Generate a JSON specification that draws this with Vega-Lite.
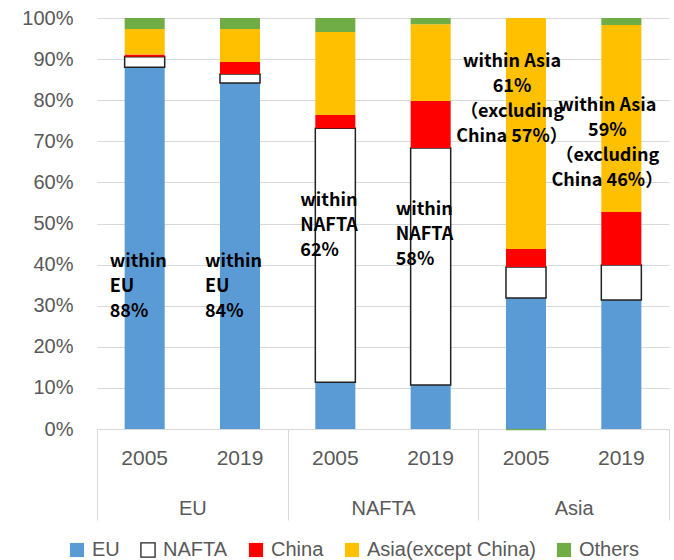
{
  "$schema": "https://vega.github.io/schema/vega-lite/v6.json",
  "width": 572,
  "height": 411,
  "autosize": "none",
  "padding": {"left": 97, "top": 18, "right": 5, "bottom": 131},
  "config": {
    "view": {"stroke": null},
    "font": "Liberation Sans",
    "axis": {"labelFont": "Liberation Sans", "labelColor": "#595959", "labelFontSize": 20, "title": null}
  },
  "layer": [
    {
      "data": {"values": [
        {"bar": "EU|2005", "cat": "EU", "o": 1, "v": 88.0},
        {"bar": "EU|2005", "cat": "NAFTA", "o": 2, "v": 2.6},
        {"bar": "EU|2005", "cat": "China", "o": 3, "v": 0.5},
        {"bar": "EU|2005", "cat": "Asia(except China)", "o": 4, "v": 6.2},
        {"bar": "EU|2005", "cat": "Others", "o": 5, "v": 2.7},
        {"bar": "EU|2019", "cat": "EU", "o": 1, "v": 84.2},
        {"bar": "EU|2019", "cat": "NAFTA", "o": 2, "v": 2.2},
        {"bar": "EU|2019", "cat": "China", "o": 3, "v": 2.9},
        {"bar": "EU|2019", "cat": "Asia(except China)", "o": 4, "v": 8.0},
        {"bar": "EU|2019", "cat": "Others", "o": 5, "v": 2.7},
        {"bar": "NAFTA|2005", "cat": "EU", "o": 1, "v": 11.4},
        {"bar": "NAFTA|2005", "cat": "NAFTA", "o": 2, "v": 61.8},
        {"bar": "NAFTA|2005", "cat": "China", "o": 3, "v": 3.2},
        {"bar": "NAFTA|2005", "cat": "Asia(except China)", "o": 4, "v": 20.2},
        {"bar": "NAFTA|2005", "cat": "Others", "o": 5, "v": 3.4},
        {"bar": "NAFTA|2019", "cat": "EU", "o": 1, "v": 10.7},
        {"bar": "NAFTA|2019", "cat": "NAFTA", "o": 2, "v": 57.7},
        {"bar": "NAFTA|2019", "cat": "China", "o": 3, "v": 11.4},
        {"bar": "NAFTA|2019", "cat": "Asia(except China)", "o": 4, "v": 18.7},
        {"bar": "NAFTA|2019", "cat": "Others", "o": 5, "v": 1.5},
        {"bar": "Asia|2005", "cat": "EU", "o": 1, "v": 31.9},
        {"bar": "Asia|2005", "cat": "NAFTA", "o": 2, "v": 7.5},
        {"bar": "Asia|2005", "cat": "China", "o": 3, "v": 4.4},
        {"bar": "Asia|2005", "cat": "Asia(except China)", "o": 4, "v": 56.2},
        {"bar": "Asia|2005", "cat": "Others", "o": 5, "v": -0.3},
        {"bar": "Asia|2019", "cat": "EU", "o": 1, "v": 31.4},
        {"bar": "Asia|2019", "cat": "NAFTA", "o": 2, "v": 8.5},
        {"bar": "Asia|2019", "cat": "China", "o": 3, "v": 12.9},
        {"bar": "Asia|2019", "cat": "Asia(except China)", "o": 4, "v": 45.5},
        {"bar": "Asia|2019", "cat": "Others", "o": 5, "v": 1.7}
      ]},
      "layer": [
        {
          "mark": {"type": "bar", "strokeWidth": 1.5},
          "encoding": {
            "x": {
              "field": "bar", "type": "nominal",
              "scale": {"domain": ["EU|2005", "EU|2019", "NAFTA|2005", "NAFTA|2019", "Asia|2005", "Asia|2019"], "paddingInner": 0.58, "paddingOuter": 0.29},
              "axis": {"labelExpr": "split(datum.value, '|')[1]", "labelAngle": 0, "ticks": false, "domainColor": "#d9d9d9", "domainWidth": 1, "labelPadding": 18, "labelFontSize": 21}
            },
            "y": {
              "field": "v", "type": "quantitative", "stack": "zero",
              "scale": {"domain": [0, 100], "nice": false},
              "axis": {"values": [0, 10, 20, 30, 40, 50, 60, 70, 80, 90, 100], "labelExpr": "datum.value + '%'", "domain": false, "ticks": false, "gridColor": "#d9d9d9", "gridWidth": 1, "labelPadding": 24}
            },
            "color": {
              "field": "cat", "type": "nominal",
              "scale": {"domain": ["EU", "NAFTA", "China", "Asia(except China)", "Others"], "range": ["#5B9BD5", "#FFFFFF", "#FF0000", "#FFC000", "#70AD47"]},
              "legend": {
                "orient": "none", "legendX": -30, "legendY": 522, "direction": "horizontal", "title": null,
                "symbolType": "square", "symbolSize": 200, "labelFontSize": 20, "labelColor": "#595959", "labelFont": "Liberation Sans",
                "columnPadding": 18, "labelOffset": 5, "labelLimit": 400
              }
            },
            "stroke": {
              "field": "cat", "type": "nominal",
              "scale": {"domain": ["EU", "NAFTA", "China", "Asia(except China)", "Others"], "range": ["rgba(0,0,0,0)", "#222222", "rgba(0,0,0,0)", "rgba(0,0,0,0)", "rgba(0,0,0,0)"]},
              "legend": {
                "orient": "none", "legendX": -30, "legendY": 522, "direction": "horizontal", "title": null,
                "symbolType": "square", "symbolSize": 200, "labelFontSize": 20, "labelColor": "#595959", "labelFont": "Liberation Sans",
                "columnPadding": 18, "labelOffset": 5, "symbolStrokeWidth": 1.3, "labelLimit": 400
              }
            },
            "order": {"field": "o", "type": "quantitative"}
          }
        },
        {
          "data": {"values": [
            {"bar": "EU|2005", "y": 42.8, "lines": ["within", "EU", "88%"]},
            {"bar": "EU|2019", "y": 42.8, "lines": ["within", "EU", "84%"]},
            {"bar": "NAFTA|2005", "y": 57.7, "lines": ["within", "NAFTA", "62%"]},
            {"bar": "NAFTA|2019", "y": 55.5, "lines": ["within", "NAFTA", "58%"]}
          ]},
          "mark": {"type": "text", "align": "left", "baseline": "top", "dx": -35, "font": "Noto Sans CJK JP", "fontWeight": "bold", "fontSize": 18, "lineHeight": 25, "color": "#000000"},
          "encoding": {
            "x": {"field": "bar", "type": "nominal"},
            "y": {"field": "y", "type": "quantitative"},
            "text": {"field": "lines"}
          }
        },
        {
          "data": {"values": [
            {"bar": "Asia|2005", "y": 91.6, "lines": ["within Asia", "61%", "（excluding", "China 57%）"]},
            {"bar": "Asia|2019", "y": 80.9, "lines": ["within Asia", "59%", "（excluding", "China 46%）"]}
          ]},
          "mark": {"type": "text", "align": "center", "baseline": "top", "dx": -14, "font": "Noto Sans CJK JP", "fontWeight": "bold", "fontSize": 18, "lineHeight": 25, "color": "#000000"},
          "encoding": {
            "x": {"field": "bar", "type": "nominal"},
            "y": {"field": "y", "type": "quantitative"},
            "text": {"field": "lines"}
          }
        }
      ]
    },
    {
      "data": {"values": [{"region": "EU"}, {"region": "NAFTA"}, {"region": "Asia"}]},
      "mark": {"type": "text"},
      "encoding": {
        "x": {
          "field": "region", "type": "nominal",
          "scale": {"domain": ["EU", "NAFTA", "Asia"], "paddingInner": 0, "paddingOuter": 0},
          "axis": {"orient": "bottom", "labelAngle": 0, "domain": false, "ticks": true, "tickBand": "extent", "tickSize": 91, "tickColor": "#d9d9d9", "tickWidth": 1, "labelPadding": -22}
        },
        "text": {"value": ""}
      }
    }
  ],
  "resolve": {"scale": {"x": "independent"}, "axis": {"x": "independent"}}
}
